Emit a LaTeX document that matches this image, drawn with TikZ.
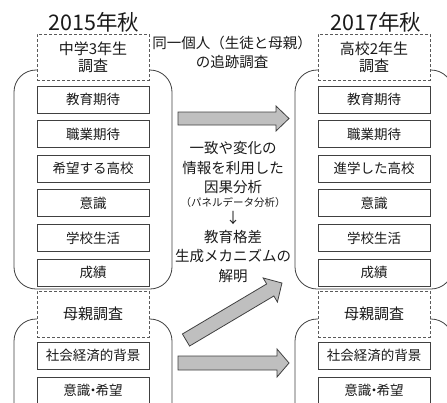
\documentclass[tikz,border=0pt]{standalone}
\usepackage{fontspec}
\setmainfont{Noto Sans CJK JP}
\definecolor{txt}{HTML}{1A1A1A}
\definecolor{line}{HTML}{404040}
\definecolor{dashc}{HTML}{595959}
\definecolor{arrowfill}{HTML}{BFBFBF}
\begin{document}
\begin{tikzpicture}[x=1pt,y=-1pt,
  every node/.style={text=txt},
  panel/.style={draw=line, line width=0.8pt, rounded corners=22pt, fill=white},
  title/.style={draw=dashc, dash pattern=on 3pt off 2pt, line width=0.8pt, fill=white,
    minimum width=112pt, minimum height=46pt, align=center, inner sep=0pt,
    font=\fontsize{15}{17}\selectfont},
  item/.style={draw=line, line width=0.8pt, fill=white, minimum width=112pt,
    minimum height=27pt, inner sep=0pt, font=\fontsize{13.5}{16}\selectfont},
  season/.style={font=\fontsize{21.5}{24}\selectfont},
  note/.style={font=\fontsize{14.5}{17}\selectfont, inner sep=0pt},
  small/.style={font=\fontsize{10.5}{12}\selectfont, inner sep=0pt},
  blockarrow/.style={draw=line, fill=arrowfill, line width=0.8pt, line join=miter}
]
\useasboundingbox (0,0) rectangle (447,402);
\clip (0,0) rectangle (447,402);

% panels
\draw[panel] (14,70) rectangle (172,289);
\draw[panel] (295,70) rectangle (453,289);
\draw[panel] (14,319) rectangle (172,440);
\draw[panel] (295,319) rectangle (453,440);

% seasons
\node[season] (s1) at (94,22) {2015年秋};
\node[season] (s2) at (376,22) {2017年秋};

% title boxes
\node[title] (tl) at (93,57) {中学3年生\\調査};
\node[title] (tr) at (374,57) {高校2年生\\調査};
\node[title] (ml) at (93,314) {母親調査};
\node[title] (mr) at (374,314) {母親調査};

% items left
\node[item] (l1) at (93,99.5) {教育期待};
\node[item] (l2) at (93,134.1) {職業期待};
\node[item] (l3) at (93,168.7) {希望する高校};
\node[item] (l4) at (93,203.3) {意識};
\node[item] (l5) at (93,237.9) {学校生活};
\node[item] (l6) at (93,272.5) {成績};
\node[item] (l7) at (93,355.5) {社会経済的背景};
\node[item] (l8) at (93,390.5) {意識\kern-0.3em・\kern-0.3em希望};

% items right
\node[item] (r1) at (374,99.5) {教育期待};
\node[item] (r2) at (374,134.1) {職業期待};
\node[item] (r3) at (374,168.7) {進学した高校};
\node[item] (r4) at (374,203.3) {意識};
\node[item] (r5) at (374,237.9) {学校生活};
\node[item] (r6) at (374,272.5) {成績};
\node[item] (r7) at (374,355.5) {社会経済的背景};
\node[item] (r8) at (374,390.5) {意識\kern-0.3em・\kern-0.3em希望};

% top note
\node[note] (n1) at (232,43) {同一個人（生徒と母親）};
\node[note] (n2) at (232,62) {の追跡調査};

% middle note
\node[note] (m1) at (233,148) {一致や変化の};
\node[note] (m2) at (233,168) {情報を利用した};
\node[note] (m3) at (233,187.5) {因果分析};
\node[small] (m4) at (233,203) {（パネルデータ分析）};
\node[note] (m5) at (233,218) {↓};
\node[note] (m6) at (233,237) {教育格差};
\node[note] (m7) at (233,256) {生成メカニズムの};
\node[note] (m8) at (233,276) {解明};

% block arrows
\draw[blockarrow] (178,112) -- (276,112) -- (276,106) -- (289,118.5) -- (276,131)
  -- (276,125) -- (178,125) -- cycle;
\draw[blockarrow] (178,356) -- (277,356) -- (277,349) -- (289,363) -- (277,377)
  -- (277,370) -- (178,370) -- cycle;
\begin{scope}[shift={(186,340)}, rotate=30.7]
\draw[blockarrow] (0,-7) -- (98,-7) -- (98,-14) -- (111.6,0) -- (98,14)
  -- (98,7) -- (0,7) -- cycle;
\end{scope}
\end{tikzpicture}
\end{document}
